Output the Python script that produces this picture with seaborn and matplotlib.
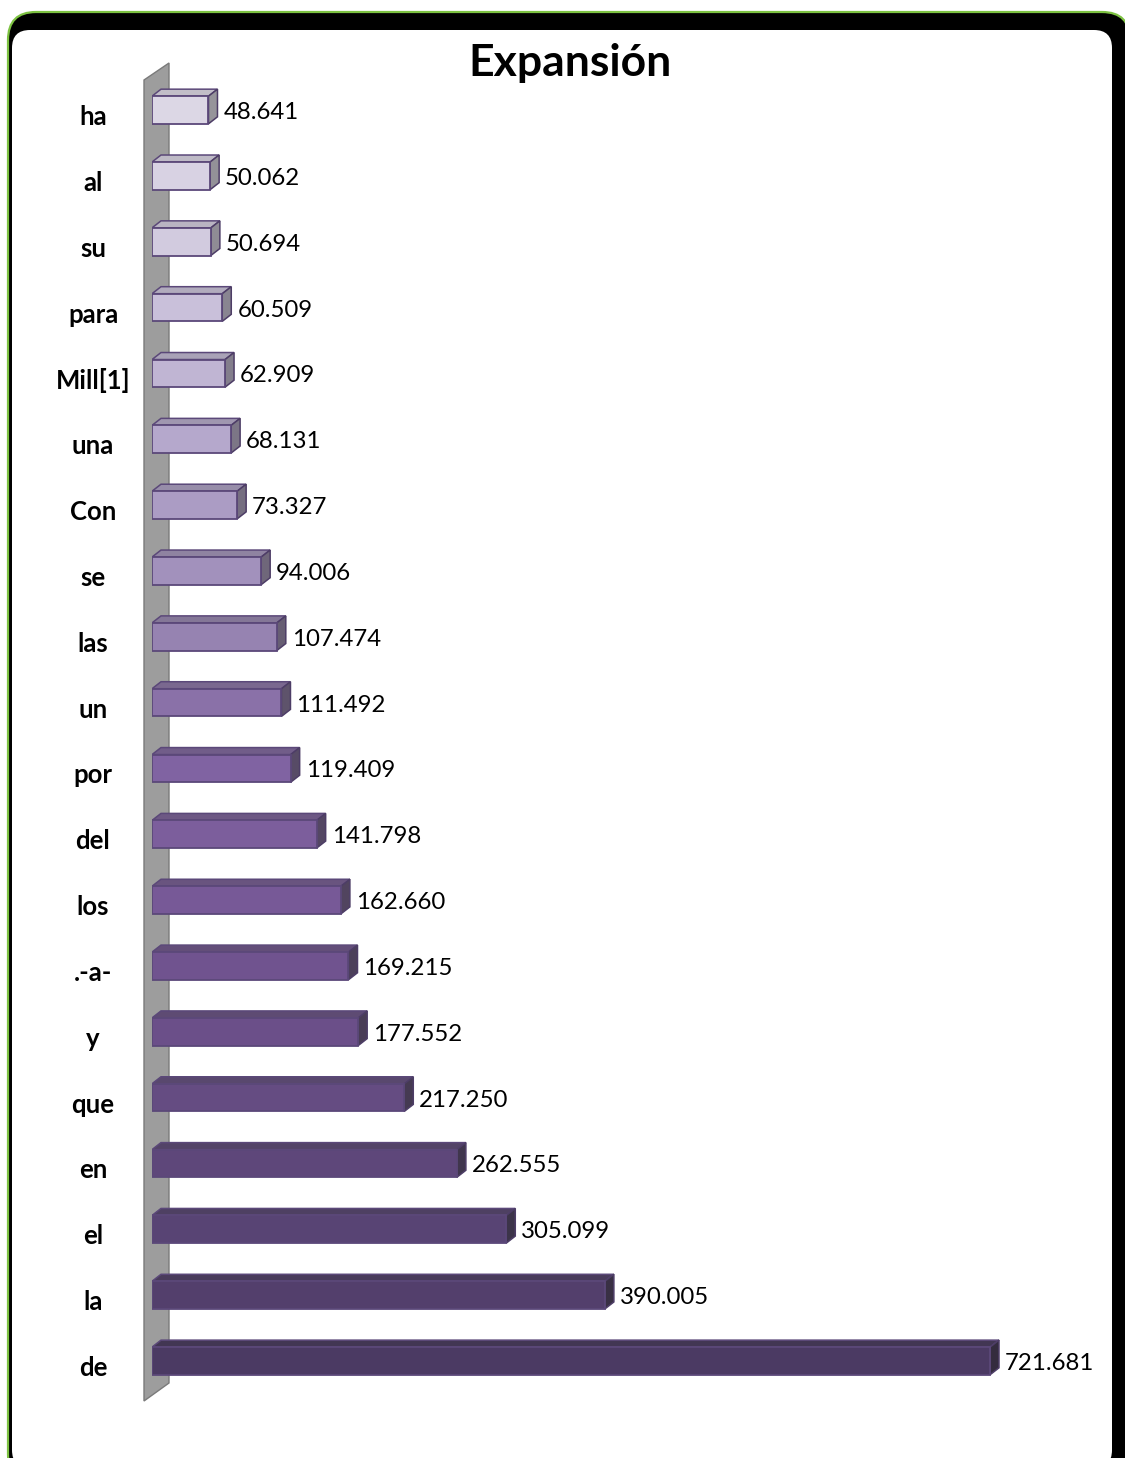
import matplotlib
matplotlib.use("Agg")
import numpy as np
import pandas as pd
import seaborn as sns
import matplotlib.pyplot as plt
import matplotlib.colors as mcolors
from matplotlib.patches import FancyBboxPatch, Polygon
from matplotlib.transforms import Affine2D

# Word frequencies (top 20 tokens)
words = ["ha", "al", "su", "para", "Mill[1]", "una", "Con", "se", "las", "un",
         "por", "del", "los", ".-a-", "y", "que", "en", "el", "la", "de"]
counts = [48641, 50062, 50694, 60509, 62909, 68131, 73327, 94006, 107474, 111492,
          119409, 141798, 162660, 169215, 177552, 217250, 262555, 305099, 390005, 721681]
title = "Expansión"

# Front-face shades, light to dark purple
palette = ["#dcd7e5", "#d8d2e3", "#d2cbdf", "#c9c0da", "#c0b5d3", "#b5a8cc", "#ab9cc4",
           "#a291bc", "#9683b1", "#8a71a8", "#8063a2", "#7c5e9c", "#775997", "#70538f",
           "#6b4f89", "#654c82", "#5e477a", "#584474", "#533f6c", "#4b3a63"]

sns.set_theme(style="white")
plt.rcParams["font.family"] = ["Lato", "DejaVu Sans"]

W, H = 1125, 1458
fig = plt.figure(figsize=(W / 100, H / 100), dpi=100)
fig.patch.set_facecolor("white")

# pixel transform for the figure (origin top-left)
px = Affine2D().scale(1 / W, -1 / H).translate(0, 1) + fig.transFigure

# rounded frame
fig.patches.append(FancyBboxPatch((8, 12), 1122, 1470,
                                  boxstyle="round,pad=0,rounding_size=28",
                                  facecolor="black", edgecolor="#7dc242",
                                  linewidth=1.6, transform=px, figure=fig, zorder=0))
fig.patches.append(FancyBboxPatch((12, 30), 1100, 1438,
                                  boxstyle="round,pad=0,rounding_size=18",
                                  facecolor="white", edgecolor="none",
                                  transform=px, figure=fig, zorder=0))

# side wall
fig.patches.append(Polygon([(144, 80), (169, 63), (169, 1383), (144, 1401)],
                           closed=True, facecolor="#9d9d9d", edgecolor="#7a7a7a",
                           linewidth=1.0, transform=px, figure=fig, zorder=1))

# axes geometry
ax_left, ax_right, ax_top, ax_bottom = 152, 1090, 63, 1400
row0_px, row_step = 110, 65.84
ax = fig.add_axes([ax_left / W, 1 - ax_bottom / H,
                   (ax_right - ax_left) / W, (ax_bottom - ax_top) / H])
ax.patch.set_visible(False)
ax.set_zorder(2)

df = pd.DataFrame({"word": words, "count": counts})
sns.barplot(data=df, x="count", y="word", hue="word", palette=palette, orient="h",
            width=0.42, saturation=1, legend=False, ax=ax,
            edgecolor="#5b4879", linewidth=1.3)

x_per_px = 721681 / 838.0
ax.set_xlim(0, (ax_right - ax_left) * x_per_px)
ax.set_ylim((ax_bottom - row0_px) / row_step, (ax_top - row0_px) / row_step)
ax.set_axis_off()

dx = 9 * x_per_px
dy = 7 / row_step


def shade(c, f, gray=0.0):
    r, g, b = mcolors.to_rgb(c)
    m = (r + g + b) / 3
    r, g, b = [(v * (1 - gray) + m * gray) * (1 - f) for v in (r, g, b)]
    return (r, g, b)


bars = sorted(ax.patches, key=lambda p: p.get_y())
for p, col in zip(bars, palette):
    x0, w = p.get_x(), p.get_width()
    y0, h = p.get_y(), p.get_height()
    x1 = x0 + w
    top = Polygon([(x0, y0), (x1, y0), (x1 + dx, y0 - dy), (x0 + dx, y0 - dy)], closed=True,
                  facecolor=shade(col, 0.12, 0.2), edgecolor="#5b4879", linewidth=1.1,
                  zorder=3)
    side = Polygon([(x1, y0), (x1 + dx, y0 - dy), (x1 + dx, y0 + h - dy), (x1, y0 + h)],
                   closed=True, facecolor=shade(col, 0.32, 0.35), edgecolor="#4d3d66",
                   linewidth=1.1, zorder=3)
    ax.add_patch(top)
    ax.add_patch(side)
    p.set_zorder(4)
    yc = y0 + h / 2
    val = int(round(w))
    ax.text(x1 + dx + 6 * x_per_px, yc + 2.5 / row_step, f"{val:,}".replace(",", "."),
            ha="left", va="center", fontsize=17.3, color="black", clip_on=False)

for i, wd in enumerate(words):
    ax.text((93 - ax_left) * x_per_px, i + 7 / row_step, wd, ha="center", va="center",
            fontsize=18.5, fontweight="bold", color="black", clip_on=False)

fig.text(570 / W, 1 - 63 / H, title, ha="center", va="center",
         fontsize=32, fontweight="bold", color="black")

fig.savefig("out.png", dpi=100)
